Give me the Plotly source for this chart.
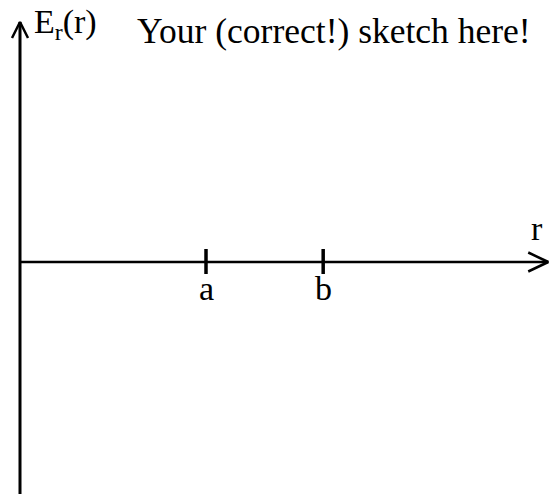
import plotly.graph_objects as go

# Radial axis: positions of the two marked radii (in units of a)
r_ticks = [1.0, 1.63]
r_tick_labels = ["a", "b"]
r_axis_end = 2.84          # tip of the r arrow
e_axis_top = 1.29          # tip of the E_r arrow
e_axis_bottom = -1.25      # lower end of the E_r axis

# drawing scale (pixels per unit) used to size arrowheads and ticks
PX = 186.0
W, H = 557, 494
x0_px, y0_px = 20, 262     # where the origin sits on the canvas

def px(d):
    return d / PX

x_range = [-px(x0_px), px(W - x0_px)]
y_range = [-px(H - y0_px), px(y0_px)]

FONT = "Liberation Serif, Times New Roman, serif"
BLACK = "#000000"

fig = go.Figure()

# vertical E_r axis
fig.add_trace(go.Scatter(x=[0, 0], y=[e_axis_bottom, e_axis_top], mode="lines",
                         line=dict(color=BLACK, width=3), hoverinfo="skip"))
# its arrowhead
fig.add_trace(go.Scatter(
    x=[-px(8), 0, px(8)],
    y=[e_axis_top - px(16), e_axis_top, e_axis_top - px(16)],
    mode="lines", line=dict(color=BLACK, width=2.5), hoverinfo="skip"))

# horizontal r axis
fig.add_trace(go.Scatter(x=[0, r_axis_end], y=[0, 0], mode="lines",
                         line=dict(color=BLACK, width=2.5), hoverinfo="skip"))
fig.add_trace(go.Scatter(
    x=[r_axis_end - px(20), r_axis_end, r_axis_end - px(20)],
    y=[px(9.5), 0, -px(9.5)],
    mode="lines", line=dict(color=BLACK, width=2.5), hoverinfo="skip"))

# tick marks at a and b
for r in r_ticks:
    fig.add_trace(go.Scatter(x=[r, r], y=[px(13), -px(12)], mode="lines",
                             line=dict(color=BLACK, width=3.5), hoverinfo="skip"))

annotations = []
for r, lab in zip(r_ticks, r_tick_labels):
    annotations.append(dict(x=r, y=-px(6), text=lab, showarrow=False,
                            xanchor="center", yanchor="top",
                            font=dict(family=FONT, size=34, color=BLACK)))

annotations.append(dict(x=r_axis_end - px(11), y=px(13), text="r", showarrow=False,
                        xanchor="center", yanchor="bottom",
                        font=dict(family=FONT, size=34, color=BLACK)))
annotations.append(dict(x=px(12), y=e_axis_top + px(21), text="E<sub>r</sub>(r)",
                        showarrow=False, xanchor="left", yanchor="top",
                        font=dict(family=FONT, size=34, color=BLACK)))
annotations.append(dict(x=px(115), y=e_axis_top + px(13),
                        text="Your (correct!) sketch here!",
                        showarrow=False, xanchor="left", yanchor="top",
                        font=dict(family=FONT, size=35.5, color=BLACK)))

fig.update_layout(
    width=W, height=H,
    margin=dict(l=0, r=0, t=0, b=0),
    paper_bgcolor="white", plot_bgcolor="white",
    showlegend=False,
    xaxis=dict(range=x_range, visible=False, fixedrange=True),
    yaxis=dict(range=y_range, visible=False, fixedrange=True),
    annotations=annotations,
)

fig.write_html("out.html")
